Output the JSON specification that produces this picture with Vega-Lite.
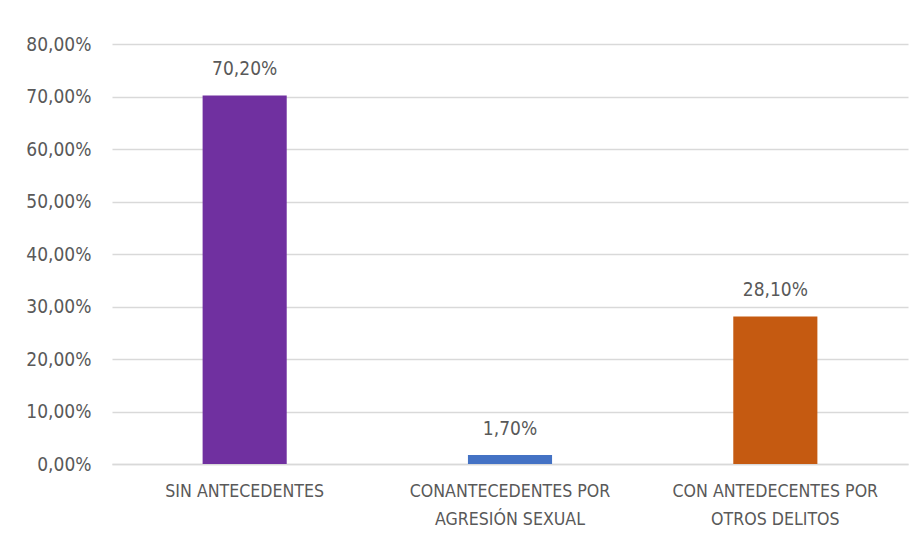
{
  "$schema": "https://vega.github.io/schema/vega-lite/v6.json",
  "autosize": "none",
  "width": 796,
  "height": 420,
  "padding": {"left": 112, "top": 44, "right": 16, "bottom": 80},
  "background": "white",
  "config": {
    "locale": {"number": {"decimal": ",", "thousands": ".", "grouping": [3], "currency": ["", " €"]}},
    "view": {"stroke": null}
  },
  "data": {
    "values": [
      {"categoria": "SIN ANTECEDENTES", "valor": 0.702, "color": "#7030A0"},
      {"categoria": "CONANTECEDENTES POR|AGRESIÓN SEXUAL", "valor": 0.017, "color": "#4472C4"},
      {"categoria": "CON ANTEDECENTES POR|OTROS DELITOS", "valor": 0.281, "color": "#C55A11"}
    ]
  },
  "encoding": {
    "x": {
      "field": "categoria",
      "type": "nominal",
      "sort": null,
      "scale": {"paddingInner": 0.683, "paddingOuter": 0.3415},
      "axis": {
        "title": null,
        "labelAngle": 0,
        "labelExpr": "split(datum.label, '|')",
        "labelFont": "DejaVu Sans Condensed, Roboto",
        "labelFontSize": 17.6,
        "labelColor": "#595959",
        "labelLineHeight": 28,
        "labelPadding": 18,
        "ticks": false,
        "domain": true,
        "domainColor": "#D9D9D9",
        "domainWidth": 1.5,
        "labelLimit": 300
      }
    },
    "y": {
      "field": "valor",
      "type": "quantitative",
      "scale": {"domain": [0, 0.8], "nice": false},
      "axis": {
        "title": null,
        "format": ".2%",
        "values": [0, 0.1, 0.2, 0.3, 0.4, 0.5, 0.6, 0.7, 0.8],
        "labelFont": "DejaVu Sans Condensed, Roboto",
        "labelFontSize": 19,
        "labelColor": "#595959",
        "labelPadding": 21,
        "ticks": false,
        "domain": false,
        "gridColor": "#D9D9D9",
        "gridWidth": 1.5
      }
    }
  },
  "layer": [
    {
      "mark": {"type": "bar"},
      "encoding": {"color": {"field": "color", "type": "nominal", "scale": null}}
    },
    {
      "mark": {"type": "text", "baseline": "bottom", "dy": -16, "fontSize": 19, "font": "DejaVu Sans Condensed, Roboto", "color": "#595959"},
      "encoding": {"text": {"field": "valor", "type": "quantitative", "format": ".2%"}}
    }
  ]
}
